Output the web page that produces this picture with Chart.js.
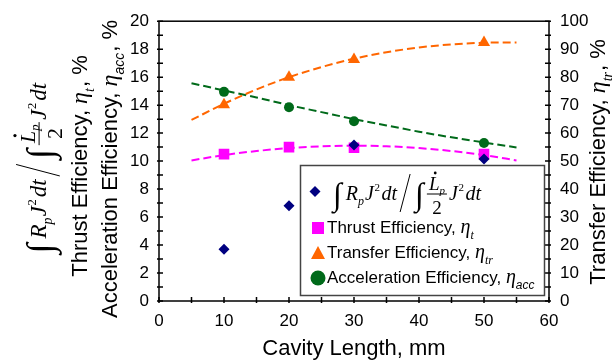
<!DOCTYPE html>
<html lang="en">
<head>
<meta charset="UTF-8" />
<title>Efficiency vs Cavity Length</title>
<style>
  body { margin: 0; background: #fff; }
  .container { width: 615px; height: 362px; }
</style>
</head>
<body>
<div class="container"><canvas id="myChart"></canvas></div>
<script src="https://cdn.jsdelivr.net/npm/chart.js"></script>
<script>
// measured points
const cavityLength = [10, 20, 30, 50];
const ohmicRatio = [3.7, 6.8, 11.15, 10.15];
const thrustEff = [10.5, 11.0, 10.95, 10.5];
const transferEff = [70.1, 80.0, 86.3, 92.4];   // right axis
const accelEff = [14.95, 13.85, 12.85, 11.3];

// dashed trend curves
const fitLength = [5, 10, 15, 20, 25, 30, 35, 40, 45, 50, 55];
const thrustFit = [10.05, 10.43, 10.72, 10.93, 11.06, 11.1, 11.06, 10.93, 10.72, 10.43, 10.05];
const transferFit = [64.7, 70.5, 75.6, 80.0, 83.6, 86.6, 88.9, 90.6, 91.7, 92.3, 92.4];
const accelFit = [15.57, 15.05, 14.55, 14.0, 13.5, 13.0, 12.55, 12.1, 11.7, 11.33, 10.98];

const NAVY = '#000080', MAGENTA = '#ff00ff', ORANGE = '#ff6600', GREEN = '#006a1a';
const SANS = '"Liberation Sans", Arial, sans-serif';
const SERIF = '"Liberation Serif", "Times New Roman", serif';

const pts = (xs, ys) => xs.map((x, i) => ({ x: x, y: ys[i] }));

// draw a list of text pieces along a baseline, returns width
function runParts(ctx, parts, x, y, draw) {
  let cx = x;
  for (const p of parts) {
    ctx.font = p.font;
    if (draw) ctx.fillText(p.s, cx, y + (p.dy || 0));
    cx += ctx.measureText(p.s).width + (p.gap || 0);
  }
  return cx - x;
}

// ∫R_p J² dt / ∫ (L̇_p / 2) J² dt
function integralExpr(ctx, x, y, f, draw) {
  const it = (s) => `italic ${s}px ${SERIF}`;
  const rm = (s) => `${s}px ${SERIF}`;
  let cx = x;
  const put = (s, font, dy, gap) => {
    ctx.font = font;
    if (draw) ctx.fillText(s, cx, y + (dy || 0));
    cx += ctx.measureText(s).width + (gap || 0);
  };
  put('∫', rm(1.6 * f), 0.25 * f, 0.2 * f);
  put('R', it(f));
  put('p', it(0.6 * f), 0.25 * f, 0.05 * f);
  put('J', it(f), 0, 0.03 * f);
  put('2', rm(0.55 * f), -0.45 * f, 0.08 * f);
  put('dt', it(f), 0, 0.15 * f);
  if (draw) {
    ctx.beginPath();
    ctx.lineWidth = 1;
    ctx.moveTo(cx, y + 0.6 * f);
    ctx.lineTo(cx + 0.5 * f, y - 1.3 * f);
    ctx.stroke();
  }
  cx += 0.75 * f;
  put('∫', rm(1.6 * f), 0.25 * f, 0.15 * f);
  // fraction
  ctx.font = it(0.95 * f);
  const lw = ctx.measureText('L').width;
  ctx.font = it(0.55 * f);
  const pw = ctx.measureText('p').width;
  ctx.font = rm(0.95 * f);
  const dw = ctx.measureText('2').width;
  const fw = Math.max(lw + pw, dw) + 0.2 * f;
  if (draw) {
    const nx = cx + (fw - lw - pw) / 2;
    const ny = y - 0.5 * f;
    ctx.font = it(0.95 * f);
    ctx.fillText('L', nx, ny);
    ctx.font = it(0.55 * f);
    ctx.fillText('p', nx + lw, ny + 0.2 * f);
    ctx.beginPath();
    ctx.arc(nx + lw * 0.6, ny - 0.85 * f, 0.07 * f, 0, Math.PI * 2);
    ctx.fill();
    ctx.beginPath();
    ctx.lineWidth = 1;
    ctx.moveTo(cx, y - 0.3 * f);
    ctx.lineTo(cx + fw, y - 0.3 * f);
    ctx.stroke();
    ctx.font = rm(0.95 * f);
    ctx.fillText('2', cx + (fw - dw) / 2, y + 0.68 * f);
  }
  cx += fw + 0.1 * f;
  put('J', it(f), 0, 0.03 * f);
  put('2', rm(0.55 * f), -0.45 * f, 0.08 * f);
  put('dt', it(f));
  return cx - x;
}

function titleParts(label, sub, subFont, size) {
  return [
    { s: label + ', ', font: `${size}px ${SANS}` },
    { s: 'η', font: `italic ${size + 2}px ${SERIF}` },
    { s: sub, font: subFont, dy: size * 0.3, gap: 1 },
    { s: ', %', font: `${size}px ${SANS}` }
  ];
}

function legendParts(label, sub, subFont) {
  return [
    { s: label + ', ', font: `17px ${SANS}` },
    { s: 'η', font: `italic 20px ${SERIF}` },
    { s: sub, font: subFont, dy: 6 }
  ];
}

// rotated text: baseline at screen x = bx, centred on screen y = cy
function rotated(ctx, bx, cy, fn) {
  ctx.save();
  ctx.translate(bx, cy);
  ctx.rotate(-Math.PI / 2);
  const w = fn(0, false);
  fn(-w / 2, true);
  ctx.restore();
}

const decorPlugin = {
  id: 'decor',
  afterDraw(chart) {
    const ctx = chart.ctx;
    const a = chart.chartArea;
    const sx = chart.scales.x, sy = chart.scales.y, sy2 = chart.scales.y2;
    ctx.save();
    ctx.fillStyle = '#000';
    ctx.strokeStyle = '#000';
    ctx.textBaseline = 'alphabetic';
    ctx.textAlign = 'left';

    // frame + inward ticks
    ctx.lineWidth = 1.5;
    ctx.strokeRect(a.left, a.top, a.right - a.left, a.bottom - a.top);
    ctx.beginPath();
    for (let v = 0; v <= 20; v += 1) {
      const py = sy.getPixelForValue(v);
      ctx.moveTo(a.left - 2, py); ctx.lineTo(a.left + 4, py);
    }
    for (let v = 0; v <= 100; v += 5) {
      const py = sy2.getPixelForValue(v);
      ctx.moveTo(a.right - 4, py); ctx.lineTo(a.right + 2, py);
    }
    for (let v = 0; v <= 60; v += 5) {
      const px = sx.getPixelForValue(v);
      ctx.moveTo(px, a.bottom + 2); ctx.lineTo(px, a.bottom - 4);
    }
    ctx.stroke();

    // axis titles
    ctx.font = `22px ${SANS}`;
    const xt = 'Cavity Length, mm';
    ctx.fillText(xt, (a.left + a.right) / 2 - ctx.measureText(xt).width / 2, 355);

    rotated(ctx, 46, 168, (x, d) => integralExpr(ctx, x, 0, 23, d));
    rotated(ctx, 87, 166, (x, d) => runParts(ctx, titleParts('Thrust Efficiency', 't', `italic 14px ${SERIF}`, 22), x, 0, d));
    rotated(ctx, 117, 169, (x, d) => runParts(ctx, titleParts('Acceleration Efficiency', 'acc', `italic 14px ${SANS}`, 22), x, 0, d));
    rotated(ctx, 605, 162, (x, d) => runParts(ctx, titleParts('Transfer Efficiency', 'tr', `italic 14px ${SERIF}`, 22), x, 0, d));

    // legend box
    ctx.fillStyle = '#fff';
    ctx.fillRect(300, 165, 245, 130);
    ctx.strokeStyle = '#444';
    ctx.lineWidth = 1.5;
    ctx.strokeRect(300.5, 165.5, 244, 130);
    ctx.strokeStyle = '#000';
    ctx.fillStyle = '#000';

    // legend markers
    ctx.fillStyle = NAVY;
    ctx.beginPath();
    ctx.moveTo(315, 186); ctx.lineTo(320.5, 191.5); ctx.lineTo(315, 197); ctx.lineTo(309.5, 191.5);
    ctx.closePath(); ctx.fill();
    ctx.fillStyle = MAGENTA;
    ctx.fillRect(312, 222, 12, 12);
    ctx.fillStyle = ORANGE;
    ctx.beginPath();
    ctx.moveTo(318, 246); ctx.lineTo(325, 259); ctx.lineTo(311, 259);
    ctx.closePath(); ctx.fill();
    ctx.fillStyle = GREEN;
    ctx.beginPath();
    ctx.arc(318, 278, 7.5, 0, Math.PI * 2);
    ctx.fill();

    // legend text
    ctx.fillStyle = '#000';
    integralExpr(ctx, 333, 200, 20, true);
    runParts(ctx, legendParts('Thrust Efficiency', 't', `italic 12px ${SERIF}`), 327, 233, true);
    runParts(ctx, legendParts('Transfer Efficiency', 'tr', `italic 12px ${SERIF}`), 327, 258, true);
    runParts(ctx, legendParts('Acceleration Efficiency', 'acc', `italic 12px ${SANS}`), 327, 283, true);
    ctx.restore();
  }
};

const dashed = (data, color, axis) => ({
  data: data,
  yAxisID: axis,
  showLine: true,
  borderColor: color,
  borderWidth: 2,
  borderDash: [8, 4],
  pointRadius: 0,
  cubicInterpolationMode: 'monotone',
  fill: false
});

const marker = (data, color, style, r, axis) => ({
  data: data,
  yAxisID: axis,
  showLine: false,
  pointStyle: style,
  pointRadius: r,
  backgroundColor: color,
  borderColor: color,
  borderWidth: 0
});

const tickFont = { family: SANS, size: 17 };

new Chart(document.getElementById('myChart'), {
  type: 'scatter',
  data: {
    datasets: [
      marker(pts(cavityLength, ohmicRatio), NAVY, 'rectRot', 5.5, 'y'),
      marker(pts(cavityLength, thrustEff), MAGENTA, 'rect', 7.5, 'y'),
      marker(pts(cavityLength, transferEff), ORANGE, 'triangle', 7, 'y2'),
      marker(pts(cavityLength, accelEff), GREEN, 'circle', 5, 'y'),
      dashed(pts(fitLength, thrustFit), MAGENTA, 'y'),
      dashed(pts(fitLength, transferFit), ORANGE, 'y2'),
      dashed(pts(fitLength, accelFit), GREEN, 'y')
    ]
  },
  options: {
    responsive: true,
    maintainAspectRatio: false,
    animation: false,
    events: [],
    layout: { padding: { top: 12, left: 0, right: 0, bottom: 0 } },
    plugins: { legend: { display: false }, tooltip: { enabled: false } },
    scales: {
      x: {
        type: 'linear', min: 0, max: 60,
        grid: { display: false, drawTicks: false },
        border: { display: false },
        ticks: { stepSize: 10, font: tickFont, color: '#000', padding: 10, maxRotation: 0 },
        afterFit: (s) => { s.height = 61; }
      },
      y: {
        position: 'left', min: 0, max: 20,
        grid: { display: false, drawTicks: false },
        border: { display: false },
        ticks: { stepSize: 2, font: tickFont, color: '#000', padding: 10 },
        afterFit: (s) => { s.width = 159; }
      },
      y2: {
        position: 'right', min: 0, max: 100,
        grid: { display: false, drawTicks: false },
        border: { display: false },
        ticks: { stepSize: 10, font: tickFont, color: '#000', padding: 11 },
        afterFit: (s) => { s.width = 66; }
      }
    }
  },
  plugins: [decorPlugin]
});
</script>
</body>
</html>
